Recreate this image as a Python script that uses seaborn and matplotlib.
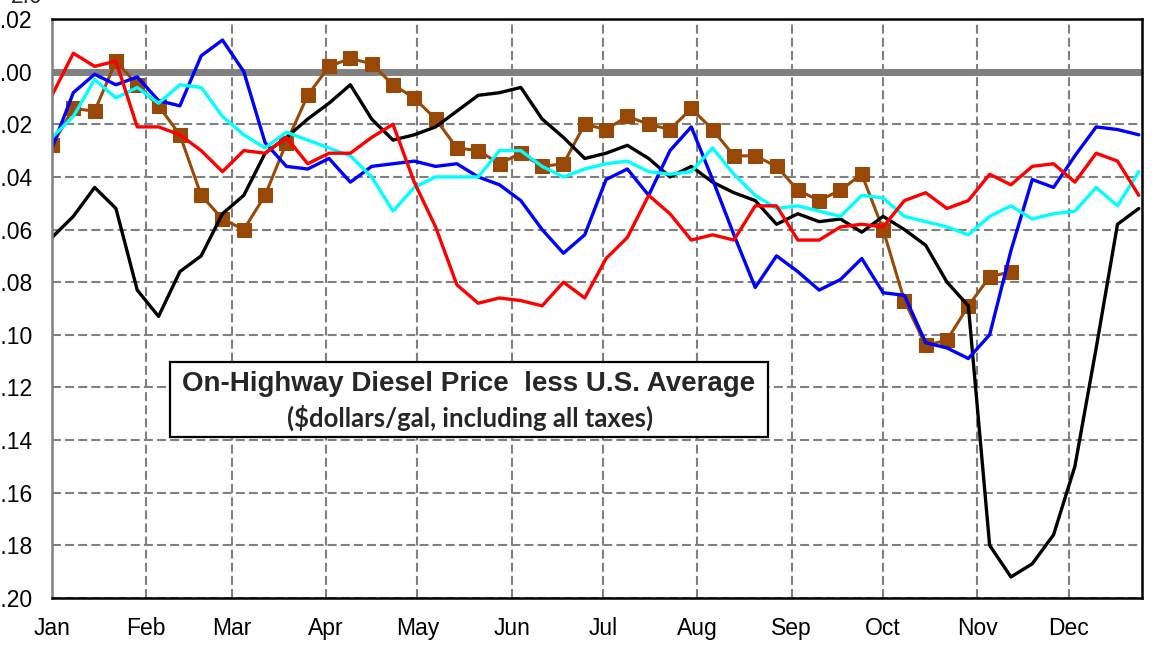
import numpy as np
import seaborn as sns
import matplotlib.pyplot as plt
from matplotlib.patches import Rectangle

# month labels and the day of year each month starts on
months = ['Jan', 'Feb', 'Mar', 'Apr', 'May', 'Jun',
          'Jul', 'Aug', 'Sep', 'Oct', 'Nov', 'Dec']
month_start_day = [0, 31, 59, 90, 120, 151, 181, 212, 243, 273, 304, 334]

y_ticks = [0.02, 0.00, -0.02, -0.04, -0.06, -0.08, -0.10,
           -0.12, -0.14, -0.16, -0.18, -0.20]

# weekly price differences ($/gal), week 0 = first week of Jan
black_series = [-0.063, -0.055, -0.044, -0.052, -0.083, -0.093, -0.076, -0.070,
                -0.054, -0.047, -0.031, -0.025, -0.018, -0.012, -0.005, -0.018,
                -0.026, -0.024, -0.021, -0.015, -0.009, -0.008, -0.006, -0.018,
                -0.025, -0.033, -0.031, -0.028, -0.033, -0.040, -0.036, -0.042,
                -0.046, -0.049, -0.058, -0.054, -0.057, -0.056, -0.061, -0.055,
                -0.060, -0.066, -0.080, -0.089, -0.180, -0.192, -0.187, -0.176,
                -0.150, -0.105, -0.058, -0.052]

red_series = [-0.009, 0.007, 0.002, 0.004, -0.021, -0.021, -0.024, -0.030,
              -0.038, -0.030, -0.031, -0.025, -0.035, -0.031, -0.031, -0.025,
              -0.020, -0.042, -0.059, -0.081, -0.088, -0.086, -0.087, -0.089,
              -0.080, -0.086, -0.071, -0.063, -0.047, -0.054, -0.064, -0.062,
              -0.064, -0.051, -0.051, -0.064, -0.064, -0.059, -0.058, -0.059,
              -0.049, -0.046, -0.052, -0.049, -0.039, -0.043, -0.036, -0.035,
              -0.042, -0.031, -0.034, -0.047]

blue_series = [-0.029, -0.008, -0.001, -0.005, -0.002, -0.011, -0.013, 0.006,
               0.012, 0.000, -0.027, -0.036, -0.037, -0.033, -0.042, -0.036,
               -0.035, -0.034, -0.036, -0.035, -0.040, -0.043, -0.049, -0.060,
               -0.069, -0.062, -0.041, -0.037, -0.047, -0.030, -0.021, -0.041,
               -0.062, -0.082, -0.070, -0.076, -0.083, -0.079, -0.071, -0.084,
               -0.085, -0.103, -0.105, -0.109, -0.100, -0.068, -0.041, -0.044,
               -0.032, -0.021, -0.022, -0.024]

cyan_series = [-0.025, -0.017, -0.003, -0.010, -0.006, -0.012, -0.005, -0.006,
               -0.017, -0.024, -0.029, -0.023, -0.026, -0.029, -0.032, -0.040,
               -0.053, -0.044, -0.040, -0.040, -0.040, -0.030, -0.030, -0.036,
               -0.040, -0.037, -0.035, -0.034, -0.038, -0.039, -0.038, -0.029,
               -0.039, -0.047, -0.052, -0.051, -0.053, -0.055, -0.047, -0.048,
               -0.055, -0.057, -0.059, -0.062, -0.055, -0.051, -0.056, -0.054,
               -0.053, -0.044, -0.051, -0.038]

# current year, only goes up to mid November
brown_series = [-0.028, -0.014, -0.015, 0.004, -0.005, -0.013, -0.024, -0.047,
                -0.056, -0.060, -0.047, -0.027, -0.009, 0.002, 0.005, 0.003,
                -0.005, -0.010, -0.018, -0.029, -0.030, -0.035, -0.031, -0.036,
                -0.035, -0.020, -0.022, -0.017, -0.020, -0.022, -0.014, -0.022,
                -0.032, -0.032, -0.036, -0.045, -0.049, -0.045, -0.039, -0.060,
                -0.087, -0.104, -0.102, -0.089, -0.078, -0.076]

BROWN = '#984807'
GRIS = '#808080'

sns.set_style("white")
plt.rcParams['font.family'] = ['Liberation Sans', 'DejaVu Sans']

W, H = 1163, 653
fig = plt.figure(figsize=(W / 100, H / 100), dpi=100)
ax = fig.add_axes([52 / W, 1 - 598 / H, (1142 - 52) / W, (598 - 19) / H])

weeks = np.arange(len(black_series))

ax.axhline(0, color=GRIS, lw=5, zorder=1.5)

sns.lineplot(x=weeks[:len(brown_series)], y=brown_series, color=BROWN, lw=2.2,
             marker='s', markersize=10, markeredgecolor=BROWN, ax=ax)
sns.lineplot(x=weeks, y=black_series, color='black', lw=2.4, ax=ax)
sns.lineplot(x=weeks, y=blue_series, color='#0000FF', lw=2.4, ax=ax)
sns.lineplot(x=weeks, y=cyan_series, color='#00FFFF', lw=2.4, ax=ax)
sns.lineplot(x=weeks, y=red_series, color='#FF0000', lw=2.4, ax=ax)

ax.set_xlim(0, 51.15)
ax.set_ylim(-0.20, 0.02)
ax.set_xticks([d / 7 for d in month_start_day])
ax.set_xticklabels(months, fontsize=16.5)
ax.set_yticks(y_ticks)
ax.set_yticklabels([f'{v:.2f}' for v in y_ticks], fontsize=16.5)
ax.tick_params(axis='x', length=0, pad=13.5, colors='black')
ax.tick_params(axis='y', length=0, pad=14.5, colors='black')
ax.set_xlabel('')
ax.set_ylabel('')

ax.grid(True, color=GRIS, linestyle=(0, (4.3, 2)), linewidth=1.5)
ax.set_axisbelow(True)

for lado in ['top', 'bottom', 'right']:
    ax.spines[lado].set_color('black')
    ax.spines[lado].set_linewidth(1.8)
ax.spines['left'].set_color(GRIS)
ax.spines['left'].set_linewidth(1.8)

# caja del titulo
fig.patches.append(Rectangle((170 / W, 1 - 437 / H), 598 / W, 75 / H,
                             transform=fig.transFigure, facecolor='white',
                             edgecolor='black', lw=1.6, zorder=3))
fig.text(469 / W, 1 - 384 / H, 'On-Highway Diesel Price  less U.S. Average',
         ha='center', va='center', fontsize=20, fontweight='bold', zorder=4)
fig.text(470 / W, 1 - 418 / H, '($dollars/gal, including all taxes)',
         ha='center', va='center', fontsize=18.5, fontweight='bold',
         family=['Lato', 'DejaVu Sans'], zorder=4)

# resto de una etiqueta cortada arriba
fig.text(43 / W, 1 - 3 / H, '2.0', ha='right', va='baseline', fontsize=16.5)

fig.savefig('out.png', dpi=100)
plt.close(fig)
